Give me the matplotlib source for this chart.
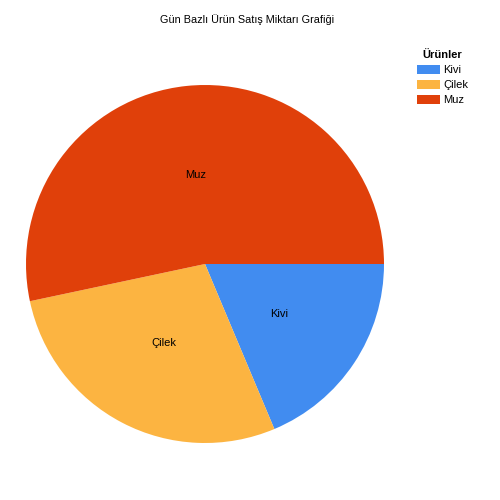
import matplotlib
matplotlib.use("Agg")
import matplotlib.pyplot as plt
from matplotlib.patches import Patch

plt.rcParams["font.family"] = ["Liberation Sans", "DejaVu Sans"]

urunler = ["Kivi", "Çilek", "Muz"]
miktar = [28, 42, 80]
renkler = ["#418CF0", "#FCB441", "#E0400A"]

fig = plt.figure(figsize=(5, 5), dpi=100)
ax = fig.add_axes([0.052, 0.114, 0.716, 0.716])
ax.pie(miktar, labels=urunler, colors=renkler, startangle=0, counterclock=False,
       labeldistance=0.5, radius=1.0,
       textprops=dict(fontsize=8, color="black", ha="center", va="center"),
       wedgeprops=dict(linewidth=0))
ax.set_xlim(-1, 1)
ax.set_ylim(-1, 1)
ax.set_aspect("equal")
ax.axis("off")

fig.text(0.495, 0.96, "Gün Bazlı Ürün Satış Miktarı Grafiği", fontsize=7.8,
         ha="center", va="center")

handles = [Patch(facecolor=c, edgecolor="none") for c in renkler]
leg = fig.legend(handles, urunler, loc="upper left", bbox_to_anchor=(0.818, 0.915),
                 frameon=False, fontsize=8, title="Ürünler",
                 title_fontproperties=dict(weight="bold", size=8),
                 handlelength=2.1, handleheight=0.85, handletextpad=0.3,
                 labelspacing=0.42, borderpad=0.2)

fig.savefig("out.png", dpi=100)
